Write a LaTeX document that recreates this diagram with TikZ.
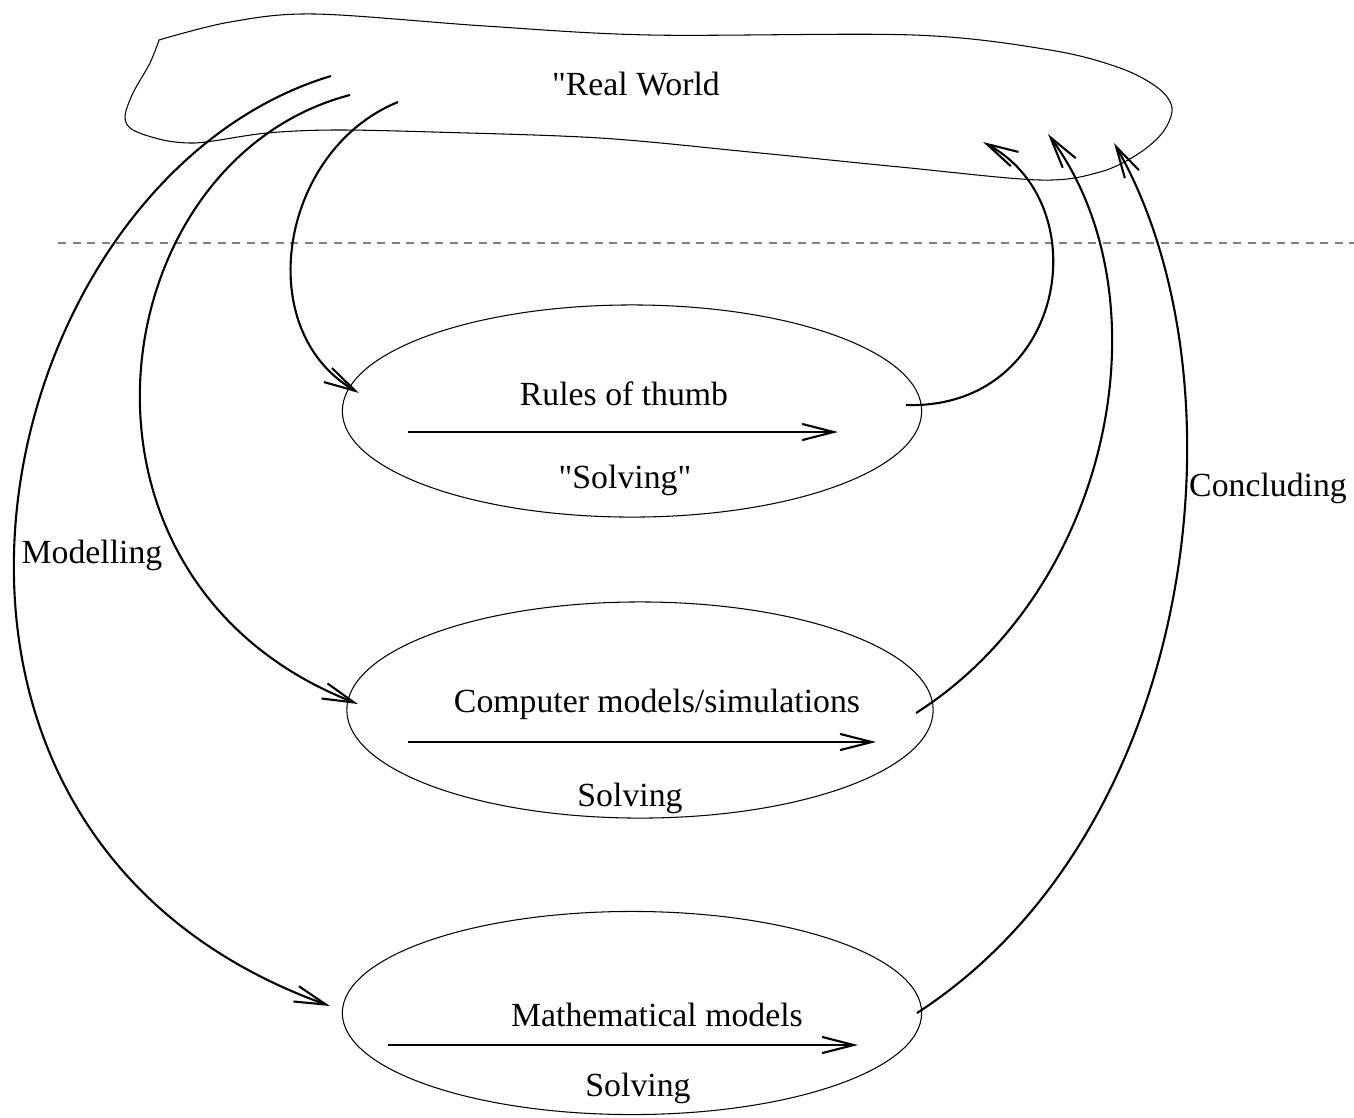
\documentclass[tikz,border=0pt]{standalone}
\usepackage{fontspec}
\setmainfont{Liberation Serif}[Ligatures=TeXOff]
\usepackage{tikz}
\usetikzlibrary{arrows.meta,shapes.geometric}
\tikzset{
	oval/.style={
		% The shape:
		ellipse,inner sep=0pt,
		% The border:
		draw=black,line width=0.3pt,
	}}
\tikzset{
	flow/.style={
		% The line:
		line width=0.6pt,
		% The tip: an open V
		-{Straight Barb[length=9pt,width=4.6pt,line width=0.6pt]},
	}}
\tikzset{
	txt/.style={
		font=\fontsize{9.6}{11}\selectfont,inner sep=0pt,
	}}

\begin{document}
\begin{tikzpicture}[x=0.01cm,y=-0.01cm]
				\useasboundingbox (0,0) rectangle (1354,1117);
				% the "real world" cloud
				\draw[line width=0.3pt] plot[smooth,tension=0.55] coordinates {
					(159,40) (230,22) (315,14) (485,26) (650,35) (914,35) (1050,50)
					(1120,68) (1158,88) (1172,108) (1163,132) (1138,154) (1100,172) (1040,180)
					(900,167) (750,152) (600,138) (433,132) (333,130) (267,133)
					(213,141) (190,143) (163,140) (133,130) (125,117) (133,93)
					(150,63) (159,40)} -- cycle;
				\node[txt] (rw) at (636,84) {"Real World};
				\draw[gray,line width=0.4pt,dash pattern=on 0.08cm off 0.065cm] (58,243) -- (1354,243);
				% the three kinds of models
				\node[oval,minimum width=5.79cm,minimum height=2.12cm] (rules) at (632,411) {};
				\node[oval,minimum width=5.86cm,minimum height=2.16cm] (comp) at (640,710) {};
				\node[oval,minimum width=5.79cm,minimum height=2.03cm] (math) at (632,1013) {};
				\node[txt] (rulestxt) at (624,394) {Rules of thumb};
				\node[txt] (rulessolve) at (625,480) {"Solving"};
				\node[txt] (comptxt) at (657,704) {Computer models/simulations};
				\node[txt] (compsolve) at (630,798) {Solving};
				\node[txt] (mathtxt) at (657,1015) {Mathematical models};
				\node[txt] (mathsolve) at (638,1088) {Solving};
				\node[txt] (model) at (92,555) {Modelling};
				\node[txt] (concl) at (1268,488) {Concluding};
				% solving inside each oval
				\coordinate (r0) at (408,432); \coordinate (r1) at (838,432);
				\coordinate (c0) at (408,742); \coordinate (c1) at (876,742);
				\coordinate (m0) at (388,1045); \coordinate (m1) at (858,1045);
				\draw[flow] (r0) -- (r1);
				\draw[flow] (c0) -- (c1);
				\draw[flow] (m0) -- (m1);
				% modelling: out of the real world
				\coordinate (a1) at (398,102); \coordinate (a1e) at (359,393);
				\coordinate (a2) at (350,95);  \coordinate (a2e) at (358,704);
				\coordinate (a3) at (331,76);  \coordinate (a3e) at (330,1006);
				\draw[flow] (a1) .. controls (280,150) and (250,330) .. (a1e);
				\draw[flow] (a2) .. controls (100,160) and (40,580) .. (a2e);
				\draw[flow] (a3) .. controls (-15,180) and (-160,830) .. (a3e);
				% concluding: back to the real world
				\coordinate (k1) at (906,405);  \coordinate (k1e) at (983,142);
				\coordinate (k2) at (916,713);  \coordinate (k2e) at (1048,134);
				\coordinate (k3) at (917,1013); \coordinate (k3e) at (1114,143);
				\draw[flow] (k1) .. controls (1065,410) and (1100,205) .. (k1e);
				\draw[flow] (k2) .. controls (1110,590) and (1170,300) .. (k2e);
				\draw[flow] (k3) .. controls (1200,830) and (1250,380) .. (k3e);
\end{tikzpicture}
\end{document}
